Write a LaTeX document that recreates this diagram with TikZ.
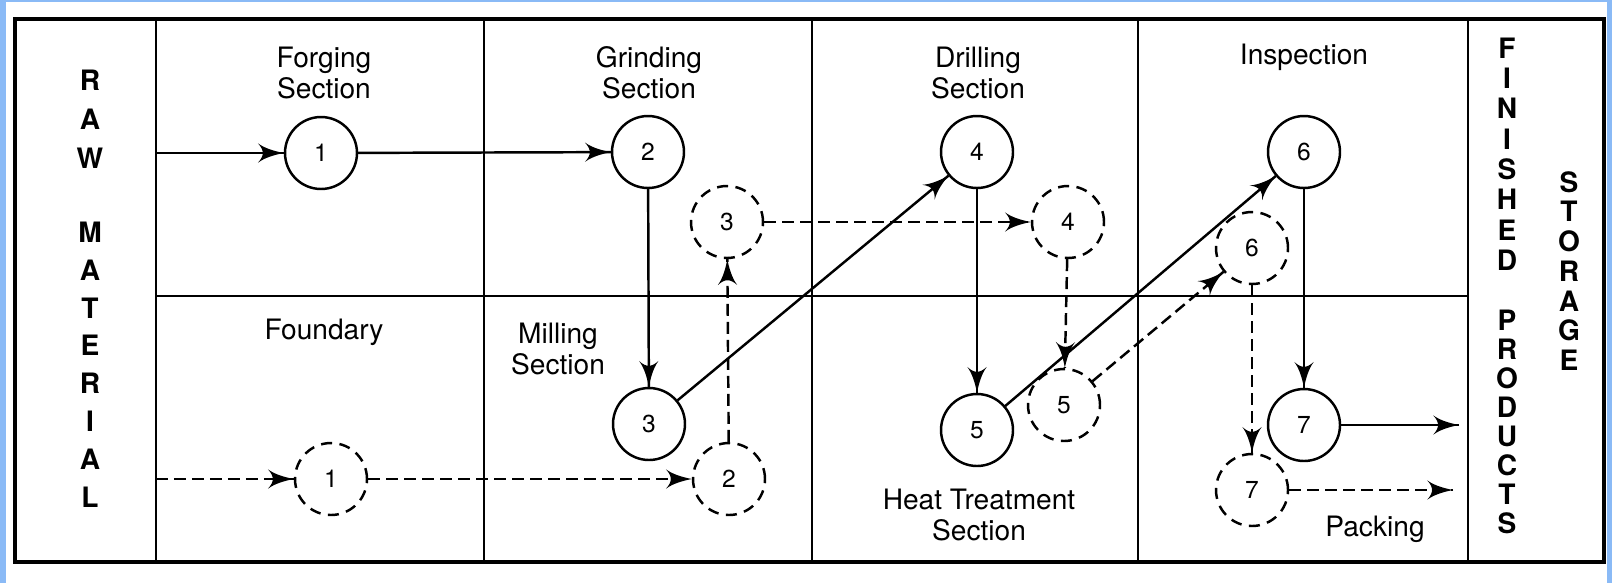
\documentclass[tikz,border=0pt]{standalone}
\usepackage{fontspec}
\setmainfont{TeX Gyre Heros}
\usetikzlibrary{arrows}
\usetikzlibrary{decorations.markings}
\definecolor{edgeblue}{RGB}{138,186,246}
\tikzset{flow/.style = {decoration={markings,
                                   mark=at position 1 with {\arrow[scale=2.1]{latex'}}},
                       postaction={decorate}}}
\tikzset{dashline/.style = {dash pattern=on 0.24cm off 0.12cm}}
\tikzset{stn/.style = {draw, circle, inner sep = 0, minimum size = 1.44cm,
                       line width = 1.4pt, font=\fontsize{14}{14}\selectfont}}
\tikzset{dstn/.style = {stn, dash pattern=on 0.22cm off 0.15cm}}
\tikzset{lbl/.style = {align=center, font=\fontsize{16}{17.6}\selectfont}}
\tikzset{vlet/.style = {inner sep = 0, font=\fontsize{16}{16}\selectfont\bfseries}}

\begin{document}
\begin{tikzpicture}[x=0.02cm, y=-0.02cm, line width=1.4pt]
  \useasboundingbox (0,0) rectangle (1612,583);
  \fill [edgeblue] (0,0) rectangle (1612,583);
  \fill [white] (6,2) rectangle (1607,583);
  % grid of sections
  \draw [line width=1.8pt] (15,19) rectangle (1604,562);
  \foreach \x in {156,484,812,1138,1468}
    \draw [line width=1.5pt] (\x,19) -- (\x,562);
  \draw [line width=1.5pt] (156,296) -- (1468,296);
  % side columns
  \foreach \ch [count = \i] in {R,A,W}
    \node [vlet] (raw\i) at (90, {80 + 39*(\i-1)}) {\ch};
  \foreach \ch [count = \i] in {M,A,T,E,R,I,A,L}
    \node [vlet] (mat\i) at (90, {232 + 37.9*(\i-1)}) {\ch};
  \foreach \ch [count = \i] in {F,I,N,I,S,H,E,D}
    \node [vlet] (fin\i) at (1507, {48 + 30.3*(\i-1)}) {\ch};
  \foreach \ch [count = \i] in {P,R,O,D,U,C,T,S}
    \node [vlet] (prod\i) at (1507, {320 + 29*(\i-1)}) {\ch};
  \foreach \ch [count = \i] in {S,T,O,R,A,G,E}
    \node [vlet] (stor\i) at (1569, {182 + 29.7*(\i-1)}) {\ch};
  % section names
  \node [lbl] (forging) at (324,73) {Forging\\Section};
  \node [lbl] (grinding) at (649,73) {Grinding\\Section};
  \node [lbl] (drilling) at (978,73) {Drilling\\Section};
  \node [lbl] (inspect) at (1304,57) {Inspection};
  \node [lbl] (foundary) at (324,332) {Foundary};
  \node [lbl] (milling) at (558,349) {Milling\\Section};
  \node [lbl] (heat) at (979,515) {Heat Treatment\\Section};
  \node [lbl] (packing) at (1375,529) {Packing};
  % first product
  \node [stn] (a1) at (321,153) {1};
  \node [stn] (a2) at (648,152) {2};
  \node [stn] (a3) at (649,424) {3};
  \node [stn] (a4) at (977,152) {4};
  \node [stn] (a5) at (977,430) {5};
  \node [stn] (a6) at (1304,152) {6};
  \node [stn] (a7) at (1304,425) {7};
  \coordinate (inA) at (156,153);
  \coordinate (outA) at (1459,425);
  \draw [flow] (inA) -- (a1);
  \draw [flow] (a1) -- (a2);
  \draw [flow] (a2) -- (a3);
  \draw [flow] (a3) -- (a4);
  \draw [flow] (a4) -- (a5);
  \draw [flow] (a5) -- (a6);
  \draw [flow] (a6) -- (a7);
  \draw [flow] (a7) -- (outA);
  % second product
  \node [dstn] (b1) at (331,479) {1};
  \node [dstn] (b2) at (729,479) {2};
  \node [dstn] (b3) at (727,222) {3};
  \node [dstn] (b4) at (1068,222) {4};
  \node [dstn] (b5) at (1064,405) {5};
  \node [dstn] (b6) at (1252,248) {6};
  \node [dstn] (b7) at (1252,490) {7};
  \coordinate (inB) at (156,479);
  \coordinate (outB) at (1453,490);
  \draw [flow, dashline] (inB) -- (b1);
  \draw [flow, dashline] (b1) -- (b2);
  \draw [flow, dashline] (b2) -- (b3);
  \draw [flow, dashline] (b3) -- (b4);
  \draw [flow, dashline] (b4) -- (b5);
  \draw [flow, dashline] (b5) -- (b6);
  \draw [flow, dashline] (b6) -- (b7);
  \draw [flow, dashline] (b7) -- (outB);
\end{tikzpicture}
\end{document}
